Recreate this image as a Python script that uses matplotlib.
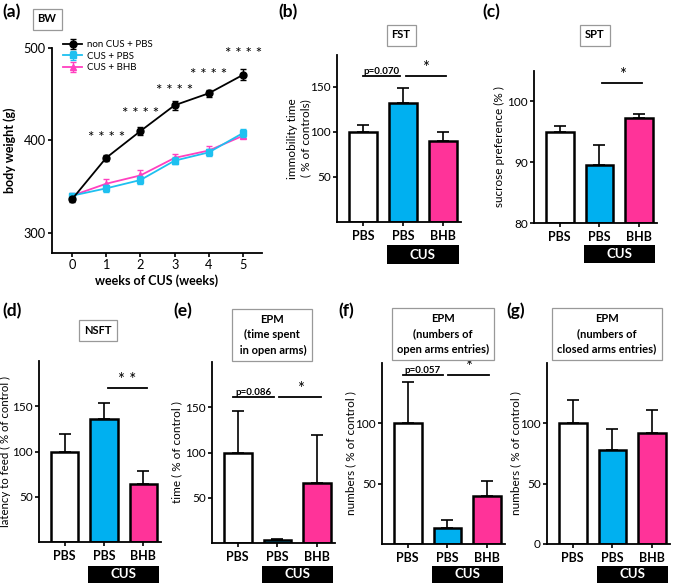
import matplotlib.pyplot as plt
import matplotlib.transforms as mtransforms
import numpy as np

plt.rcParams['font.family'] = ['Lato', 'DejaVu Sans']

W, H = 675, 587

# (a) body weight
weeks = [0, 1, 2, 3, 4, 5]
bw_non = [336, 381, 410, 438, 451, 471]
bw_non_err = [3, 3, 4, 5, 4, 6]
bw_pbs = [340, 348, 357, 378, 387, 408]
bw_pbs_err = [3, 4, 4, 4, 4, 4]
bw_bhb = [340, 353, 362, 381, 389, 405]
bw_bhb_err = [3, 5, 6, 4, 5, 3]
star_weeks = [1, 2, 3, 4, 5]
star_y = [402, 429, 453, 471, 493]

# bar panels
groups = ['PBS', 'PBS', 'BHB']
fst = [100, 132, 90]
fst_err = [7, 16, 10]
spt = [95.0, 89.6, 97.3]
spt_err = [1.0, 3.3, 0.6]
nsft = [100, 136, 64]
nsft_err = [19, 18, 15]
epm_time = [100, 3, 66]
epm_time_err = [46, 1, 53]
epm_open = [100, 13, 40]
epm_open_err = [34, 7, 12]
epm_closed = [100, 78, 92]
epm_closed_err = [19, 17, 19]

bar_colors = ['white', '#00b0f0', '#ff3399']

fig = plt.figure(figsize=(6.75, 5.87), dpi=100)


def box(l, t, r, b):
    return [l / W, 1 - b / H, (r - l) / W, (b - t) / H]


def style(ax):
    ax.spines['top'].set_visible(False)
    ax.spines['right'].set_visible(False)
    ax.spines['left'].set_linewidth(1.3)
    ax.spines['bottom'].set_linewidth(1.3)
    ax.tick_params(labelsize=8.5, width=1.2, length=3, pad=1.5)


def title_box(x, y, txt):
    fig.text(x / W, 1 - y / H, txt, ha='center', va='center', fontsize=8,
             fontweight='bold', linespacing=1.45,
             bbox=dict(boxstyle='square,pad=0.45', fc='white', ec='#999999', lw=0.9))


def letter(x, y, txt):
    fig.text(x / W, 1 - y / H, txt, ha='left', va='center', fontsize=12.5, fontweight='bold')


def ylabel_at(ax, rect, px):
    # px = right edge of the rotated label, in figure pixels
    l, t, r, b = rect
    ax.yaxis.set_label_coords((px - l) / (r - l), 0.5)


# ---- (a)
rect_a = (52, 48, 262, 253)
ax = fig.add_axes(box(*rect_a))
style(ax)
ax.errorbar(weeks, bw_non, yerr=bw_non_err, color='black', marker='o', ms=5,
            lw=1.3, capsize=2, elinewidth=1, label='non CUS + PBS', zorder=5)
ax.errorbar(weeks, bw_pbs, yerr=bw_pbs_err, color='#1ec0f0', marker='s', ms=5,
            lw=1.3, capsize=2, elinewidth=1, label='CUS + PBS', zorder=4)
ax.errorbar(weeks, bw_bhb, yerr=bw_bhb_err, color='#ff40c0', marker='^', ms=5,
            lw=1.3, capsize=2, elinewidth=1, label='CUS + BHB', zorder=3)
for w, y in zip(star_weeks, star_y):
    ax.text(w, y, '* * * *', ha='center', va='center', fontsize=11)
ax.set_xlim(-0.58, 5.55)
ax.set_ylim(278, 500)
ax.set_xticks(weeks)
ax.set_yticks([300, 400, 500])
ax.tick_params(labelsize=9.2)
ax.set_xlabel('weeks of CUS (weeks)', fontsize=9, fontweight='bold', labelpad=2)
ax.set_ylabel('body weight (g)', fontsize=9, fontweight='bold')
ylabel_at(ax, rect_a, 16)
ax.legend(loc='upper left', bbox_to_anchor=(0.02, 1.07), frameon=False, fontsize=7,
          handlelength=2.0, handletextpad=0.5, labelspacing=0.25, borderpad=0.2)
letter(2, 12, '(a)')
title_box(47, 19, 'BW')

# ---- bar panels
panels = [
    dict(rect=(337, 55, 461, 222), vals=fst, err=fst_err, ylim=(0, 185), yt=[50, 100, 150],
         ylabel='immobility time\n( % of controls)', ylab_x=311, cus=(245, 264),
         sig=[(0.0, 0.92, 162, 'p=0.070'), (1.07, 2.07, 162, '*')],
         letter=(278, 12, '(b)'), title=(401, 35, 'FST')),
    dict(rect=(534, 71, 657, 223), vals=spt, err=spt_err, ylim=(80, 105), yt=[80, 90, 100],
         ylabel='sucrose preference (% )', ylab_x=505, cus=(245, 263),
         sig=[(1.07, 2.07, 103.1, '*')],
         letter=(482, 12, '(c)'), title=(595, 35, 'SPT')),
    dict(rect=(39, 361, 161, 542), vals=nsft, err=nsft_err, ylim=(0, 200), yt=[50, 100, 150],
         ylabel='latency to feed ( % of control )', ylab_x=11.5, cus=(566, 583),
         sig=[(1.1, 2.1, 170, '* *')],
         letter=(2, 311, '(d)'), title=(98, 330, 'NSFT')),
    dict(rect=(212, 362, 335, 543), vals=epm_time, err=epm_time_err, ylim=(0, 200), yt=[50, 100, 150],
         ylabel='time ( % of control )', ylab_x=182, cus=(566, 583),
         sig=[(-0.12, 0.92, 161, 'p=0.086'), (1.05, 2.1, 161, '*')],
         letter=(173, 311, '(e)'), title=(272, 335, 'EPM\n(time spent\n in open arms)')),
    dict(rect=(382, 363, 505, 544), vals=epm_open, err=epm_open_err, ylim=(0, 150), yt=[50, 100],
         ylabel='numbers ( % of control )', ylab_x=356, cus=(566, 583),
         sig=[(-0.12, 0.88, 139.7, 'p=0.057'), (1.02, 2.05, 139.7, '*')],
         letter=(338, 311, '(f)'), title=(443, 334, 'EPM\n(numbers of\nopen arms entries)')),
    dict(rect=(547, 363, 670, 544), vals=epm_closed, err=epm_closed_err, ylim=(0, 150), yt=[0, 50, 100],
         ylabel='numbers ( % of control )', ylab_x=521, cus=(566, 583),
         sig=[],
         letter=(506, 311, '(g)'), title=(607, 334, 'EPM\n(numbers of\nclosed arms entries)')),
]

x = np.arange(3)
for p in panels:
    ax = fig.add_axes(box(*p['rect']))
    style(ax)
    ax.errorbar(x, p['vals'], yerr=[np.zeros(3), p['err']], fmt='none', ecolor='black',
                elinewidth=1.2, capsize=4.5, capthick=1.2, zorder=1)
    ax.bar(x, [v - p['ylim'][0] for v in p['vals']], bottom=p['ylim'][0], width=0.7,
           color=bar_colors, edgecolor='black', linewidth=1.8, zorder=2)
    ax.set_xlim(-0.65, 2.45)
    ax.set_ylim(*p['ylim'])
    ax.set_yticks(p['yt'])
    ax.set_xticks(x)
    ax.set_xticklabels(groups, fontweight='bold', fontsize=9)
    ax.tick_params(axis='x', pad=3)
    ax.set_ylabel(p['ylabel'], fontsize=8.2 if p['ylab_x'] < 20 else 8.5)
    ylabel_at(ax, p['rect'], p['ylab_x'])
    for x1, x2, y, lab in p['sig']:
        ax.plot([x1, x2], [y, y], color='black', lw=1.3, clip_on=False)
        if lab.startswith('p'):
            ax.text((x1 + x2) / 2, y, lab, ha='center', va='bottom', fontsize=7,
                    fontweight='bold')
        else:
            ax.text((x1 + x2) / 2, y, lab, ha='center', va='bottom', fontsize=12)
    # CUS bar below the two CUS groups
    tr = mtransforms.blended_transform_factory(ax.transData, fig.transFigure)
    t, b = p['cus']
    ax.add_patch(plt.Rectangle((1 - 0.4, 1 - b / H), 1.8, (b - t) / H, transform=tr,
                               facecolor='black', clip_on=False))
    ax.text(1.5, 1 - (t + b) / 2 / H, 'CUS', transform=tr, color='white', ha='center',
            va='center', fontsize=9.5, fontweight='bold')
    letter(*p['letter'])
    title_box(*p['title'])

fig.savefig('out.png', dpi=100)
